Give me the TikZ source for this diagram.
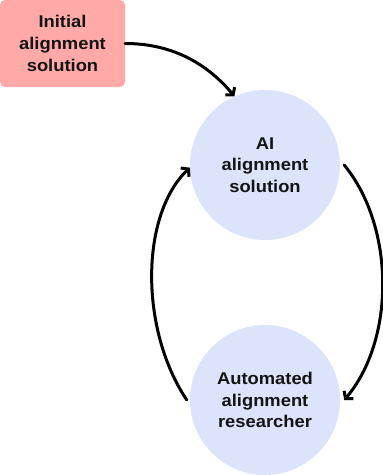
\documentclass[tikz,border=0pt]{standalone}
\usepackage{fontspec}
\setmainfont{Liberation Sans}[FakeStretch=1.08]
\usetikzlibrary{arrows.meta}
\definecolor{pinkbox}{HTML}{FFA9A9}
\definecolor{bluecirc}{HTML}{DCE4FB}
\begin{document}
\begin{tikzpicture}[x=1pt,y=-1pt,
  lbl/.style={align=center,font=\fontsize{17}{21.7}\selectfont\bfseries,text=black!92},
  circnode/.style={lbl,circle,fill=bluecirc,minimum size=150pt,inner sep=0pt},
  boxnode/.style={lbl,fill=pinkbox,rounded corners=5pt,minimum width=125pt,minimum height=87pt,inner sep=0pt},
  conn/.style={line width=3pt,line cap=round,-{Straight Barb[length=5pt,width=12pt,line width=3pt]}}]
\useasboundingbox (0,0) rectangle (383,475);
\node[boxnode] (init) at (62.5,43.5) {Initial\\alignment\\solution};
\node[circnode] (top) at (265,165) {AI\\alignment\\solution};
\node[circnode] (bot) at (265,400) {Automated\\alignment\\researcher};
\draw[conn] (init.east) .. controls +(50,0) and +(-25,-30) .. (top.114);
\draw[conn] ([xshift=4pt]top.east) .. controls +(51,62) and +(51,-60) .. ([xshift=4pt]bot.east);
\draw[conn] ([xshift=-3pt]bot.west) .. controls +(-47,-70) and +(-50,48) .. (top.182);
\end{tikzpicture}
\end{document}
